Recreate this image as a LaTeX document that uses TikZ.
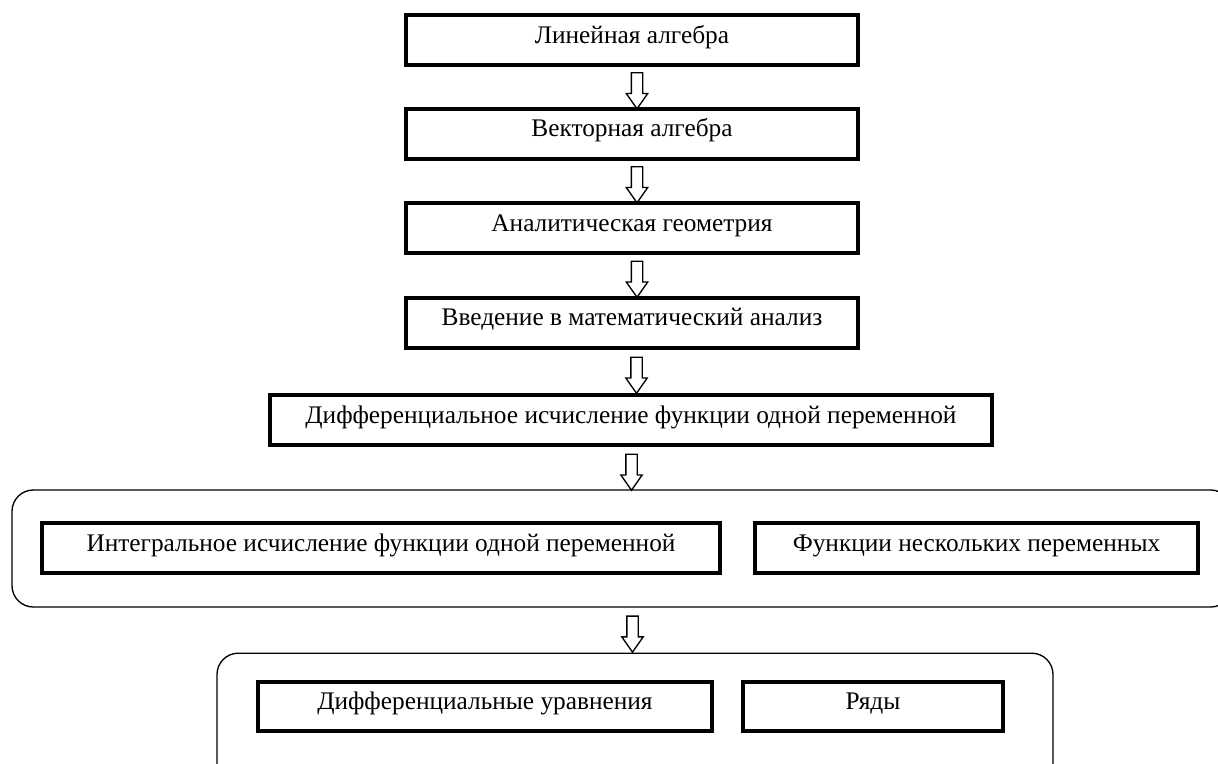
\documentclass[tikz,border=0pt]{standalone}
\usepackage{fontspec}
\setmainfont{Liberation Serif}
\usetikzlibrary{shapes.arrows}
\usetikzlibrary{calc}

\tikzset{
    blok/.style={draw,line width=3pt,minimum height=37.5pt,inner sep=0pt,
        font=\fontsize{19}{22}\selectfont,text height=0.72em,text depth=0.22em},
    grup/.style={draw,line width=1pt,rounded corners=16pt,inner sep=0pt},
    strelka/.style={draw,line width=1pt,single arrow,shape border rotate=270,
        minimum height=27pt,minimum width=15pt,single arrow head extend=3.75pt,
        single arrow tip angle=70,inner sep=3.75pt}
}

\begin{document}
\begin{tikzpicture}[x=0.75pt,y=-0.75pt]
    \useasboundingbox (0,0) rectangle (1218,764);
    \node[blok,minimum width=339pt] (lin) at (632,40) {Линейная алгебра};
    \node[blok,minimum width=339pt] (vek) at (632,133.5) {Векторная алгебра};
    \node[blok,minimum width=339pt] (geom) at (632,228) {Аналитическая геометрия};
    \node[blok,minimum width=339pt] (vved) at (632,322.5) {Введение в математический анализ};
    \node[blok,minimum width=541.5pt] (diff) at (631,420) {Дифференциальное исчисление функции одной переменной};
    \node[grup,minimum width=915pt,minimum height=87.75pt] (grA) at (622,548.5) {};
    \node[blok,minimum width=508.5pt,minimum height=38pt] (integ) at (381,548) {Интегральное исчисление функции одной переменной};
    \node[blok,minimum width=332pt,minimum height=38pt] (fnp) at (976.5,548) {Функции нескольких переменных};
    \node[grup,minimum width=627pt,minimum height=110pt] (grB) at (635,726.5) {};
    \node[blok,minimum width=340.5pt,minimum height=37pt] (du) at (485,706.5) {Дифференциальные уравнения};
    \node[blok,minimum width=195pt,minimum height=37pt] (ryad) at (873,706.5) {Ряды};
    \node[strelka] (s1) at ($(lin.south)!0.5!(vek.north)+(5,0)$) {};
    \node[strelka] (s2) at ($(vek.south)!0.5!(geom.north)+(5,0)$) {};
    \node[strelka] (s3) at ($(geom.south)!0.5!(vved.north)+(5,0)$) {};
    \node[strelka] (s4) at ($(vved.south)!0.5!(diff.north)+(5,0)$) {};
    \node[strelka] (s5) at ($(diff.south)!0.5!(grA.north)+(5,0)$) {};
    \node[strelka] (s6) at ($(grA.south)!0.5!(grB.north)+(4,0)$) {};
\end{tikzpicture}
\end{document}
